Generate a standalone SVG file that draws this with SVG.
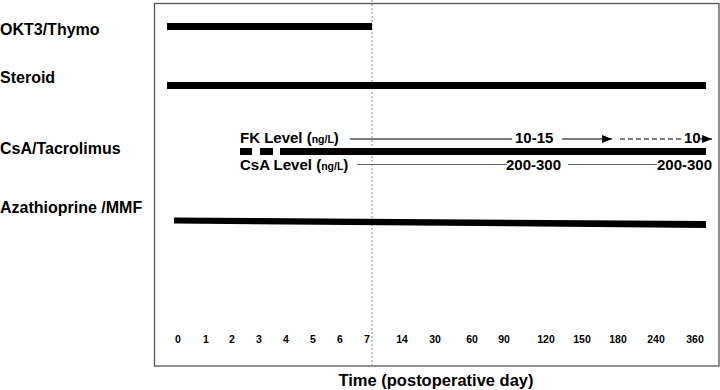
<svg xmlns="http://www.w3.org/2000/svg" width="720" height="390" viewBox="0 0 720 390">
<defs>
<marker id="ah" viewBox="0 0 10 8" refX="10" refY="4" markerWidth="10" markerHeight="8" markerUnits="userSpaceOnUse" orient="auto">
<path d="M0,0 L10,4 L0,8 Z" fill="#000"/>
</marker>
<style>
.lbl{font-family:"Liberation Sans",Arial,sans-serif;font-weight:bold;font-size:16px;fill:#000}
.lvl{font-family:"Liberation Sans",Arial,sans-serif;font-weight:bold;font-size:15px;fill:#000}
.sm{font-size:10.5px}
.tick{font-family:"Liberation Sans",Arial,sans-serif;font-weight:bold;font-size:10.5px;fill:#000;text-anchor:middle}
.bar{fill:#000}
</style>
</defs>
<rect width="720" height="390" fill="#fff"/>
<rect x="154.5" y="3.5" width="564.5" height="362.5" fill="none" stroke="#555" stroke-width="1.3"/>
<g id="connectors">
<line x1="372" y1="0" x2="372" y2="366" stroke="#888" stroke-width="1" stroke-dasharray="2,2"/>
<line x1="350" y1="139" x2="512" y2="139" stroke="#000" stroke-width="1"/>
<line x1="562" y1="139" x2="612" y2="139" stroke="#000" stroke-width="1" marker-end="url(#ah)"/>
<line x1="620" y1="139" x2="682" y2="139" stroke="#000" stroke-width="1" stroke-dasharray="5,3"/>
<line x1="700" y1="139" x2="712" y2="139" stroke="#000" stroke-width="1" marker-end="url(#ah)"/>
<line x1="357" y1="164.5" x2="507" y2="164.5" stroke="#666" stroke-width="1.2"/>
<line x1="568" y1="164.5" x2="657" y2="164.5" stroke="#666" stroke-width="1.2"/>
</g>
<g id="okt3">
<text class="lbl" x="0" y="35">OKT3/Thymo</text>
<rect class="bar" x="167" y="23" width="205" height="7"/>
</g>
<g id="steroid">
<text class="lbl" x="0" y="83">Steroid</text>
<rect class="bar" x="167" y="82" width="539" height="7"/>
</g>
<g id="csa">
<text class="lbl" x="0" y="154">CsA/Tacrolimus</text>
<rect class="bar" x="240" y="148" width="12" height="7"/>
<rect class="bar" x="260" y="148" width="13" height="7"/>
<rect class="bar" x="280" y="148" width="426" height="7"/>
<text class="lvl" x="240" y="143">FK Level (<tspan class="sm">ng/L</tspan>)</text>
<text class="lvl" x="240" y="170">CsA Level (<tspan class="sm">ng/L</tspan>)</text>
<text class="lvl" x="515" y="143">10-15</text>
<text class="lvl" x="684" y="143">10</text>
<text class="lvl" x="506" y="170">200-300</text>
<text class="lvl" x="657" y="170">200-300</text>
</g>
<g id="aza">
<text class="lbl" x="0" y="213">Azathioprine /MMF</text>
<polygon class="bar" points="174,217.5 706,221 706,228 174,223.5"/>
</g>
<g id="axis">
<text class="tick" x="178" y="343">0</text>
<text class="tick" x="206" y="343">1</text>
<text class="tick" x="232" y="343">2</text>
<text class="tick" x="259" y="343">3</text>
<text class="tick" x="286" y="343">4</text>
<text class="tick" x="313" y="343">5</text>
<text class="tick" x="340" y="343">6</text>
<text class="tick" x="367" y="343">7</text>
<text class="tick" x="402" y="343">14</text>
<text class="tick" x="435" y="343">30</text>
<text class="tick" x="472" y="343">60</text>
<text class="tick" x="504" y="343">90</text>
<text class="tick" x="546" y="343">120</text>
<text class="tick" x="582" y="343">150</text>
<text class="tick" x="618" y="343">180</text>
<text class="tick" x="656" y="343">240</text>
<text class="tick" x="695" y="343">360</text>
<text class="lbl" x="436" y="386" text-anchor="middle" style="font-size:16.5px">Time (postoperative day)</text>
</g>
</svg>
